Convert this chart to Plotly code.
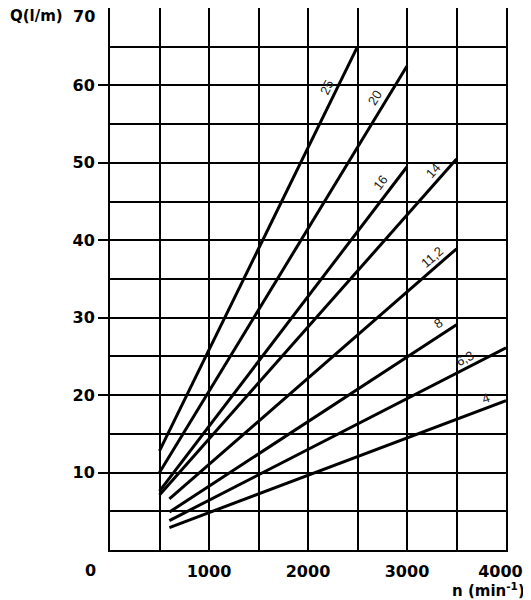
import math
import plotly.graph_objects as go

# ==========================================
# DATA
# ==========================================
# displacement of each pump size (cm3/rev) as printed next to its line
SIZES = ["25", "20", "16", "14", "11,2", "8", "6,3", "4"]
N_START = [500, 500, 500, 500, 600, 600, 600, 600]
N_END = [2500, 3000, 3000, 3500, 3500, 3500, 4000, 4000]
Q_START = [12.8, 10.0, 7.6, 7.1, 6.6, 4.9, 3.8, 2.9]
Q_END = [65.0, 62.5, 49.5, 50.5, 38.9, 29.1, 26.1, 19.3]

X_TICKS = [1000, 2000, 3000, 4000]
# last label is padded so it sits inside the window like the original
X_TICK_TEXT = ["1000", "2000", "3000", "4000\u00a0\u00a0"]
Y_TICKS = [10, 20, 30, 40, 50, 60]
Y_TICK_TEXT = ["10", "20", "30", "40", "50", "60"]

# ==========================================
# LAYOUT SETTINGS
# ==========================================
# the html page keeps the browser's 8px body margin, so the figure is
# made smaller by that much to fit the 531x600 window
PAGE_OFFSET = 8
WIDTH, HEIGHT = 531 - PAGE_OFFSET, 600 - PAGE_OFFSET
MARGIN = dict(l=110 - PAGE_OFFSET, r=25, t=0, b=50)
X_RANGE = [0, 4000]
Y_RANGE = [0, 70]
FONT = "DejaVu Sans"

# where each size label sits (data coords), up-left of its line end
LABEL_N = [2190, 2680, 2730, 3265, 3250, 3315, 3585, 3790]
LABEL_Q = [59.7, 58.4, 47.5, 49.0, 37.8, 29.2, 24.7, 19.6]

plot_w = WIDTH - MARGIN["l"] - MARGIN["r"]
plot_h = HEIGHT - MARGIN["t"] - MARGIN["b"]


def line_angle(i):
    """Screen angle of line i in degrees, so the label runs along it."""
    dx = (N_END[i] - N_START[i]) / (X_RANGE[1] - X_RANGE[0]) * plot_w
    dy = (Q_END[i] - Q_START[i]) / (Y_RANGE[1] - Y_RANGE[0]) * plot_h
    return math.degrees(math.atan2(dy, dx))


fig = go.Figure()

for i, size in enumerate(SIZES):
    fig.add_trace(go.Scatter(
        x=[N_START[i], N_END[i]],
        y=[Q_START[i], Q_END[i]],
        mode="lines",
        line=dict(color="black", width=3),
        name=size,
        showlegend=False,
    ))
    fig.add_annotation(
        x=LABEL_N[i], y=LABEL_Q[i], text=size, showarrow=False,
        textangle=-line_angle(i),
        font=dict(family="Liberation Sans", size=13, color="#222"),
    )

axis_common = dict(
    showline=True, mirror=True, linecolor="black", linewidth=2,
    showgrid=True, gridcolor="black", gridwidth=2, zeroline=False,
    automargin=False, ticklabeloverflow="allow",
    tickfont=dict(family=FONT, size=16, color="black", weight="bold"),
)

fig.update_xaxes(
    range=X_RANGE, tickmode="array", tickvals=X_TICKS, ticktext=X_TICK_TEXT,
    ticks="", ticklabelstandoff=6,
    minor=dict(tickvals=[500, 1500, 2500, 3500], showgrid=True,
               gridcolor="black", gridwidth=2, ticks=""),
    **axis_common,
)
fig.update_yaxes(
    range=Y_RANGE, tickmode="array", tickvals=Y_TICKS, ticktext=Y_TICK_TEXT,
    ticks="outside", ticklen=10, tickwidth=2, tickcolor="black",
    minor=dict(tickvals=[5, 15, 25, 35, 45, 55, 65], showgrid=True,
               gridcolor="black", gridwidth=2, ticks=""),
    **axis_common,
)

label_font = dict(family=FONT, size=16, color="black", weight="bold")
# origin label, top y label and axis names (positions in window pixels)
fig.add_annotation(x=90, y=570, text="0", xanchor="center",
                   font=label_font)
fig.add_annotation(x=97, y=16, text="70", xanchor="right",
                   font=label_font)
fig.add_annotation(x=8, y=16, text="Q(l/m)", xanchor="left",
                   font=dict(family=FONT, size=15, color="black",
                             weight="bold"))
fig.add_annotation(x=527, y=590, text="n (min<sup>-1</sup>)",
                   xanchor="right",
                   font=dict(family=FONT, size=15, color="black",
                             weight="bold"))

fig.update_layout(
    width=WIDTH, height=HEIGHT, margin=MARGIN,
    plot_bgcolor="white", paper_bgcolor="white",
)

# the last four annotations were placed in window pixels; convert to paper
for ann in fig.layout.annotations[len(SIZES):]:
    ann.xref = "paper"
    ann.yref = "paper"
    ann.yanchor = "middle"
    ann.showarrow = False
    px_x = ann.x - PAGE_OFFSET
    px_y = ann.y - PAGE_OFFSET
    ann.x = (px_x - MARGIN["l"]) / plot_w
    ann.y = (HEIGHT - MARGIN["b"] - px_y) / plot_h

fig.write_html("out.html")
